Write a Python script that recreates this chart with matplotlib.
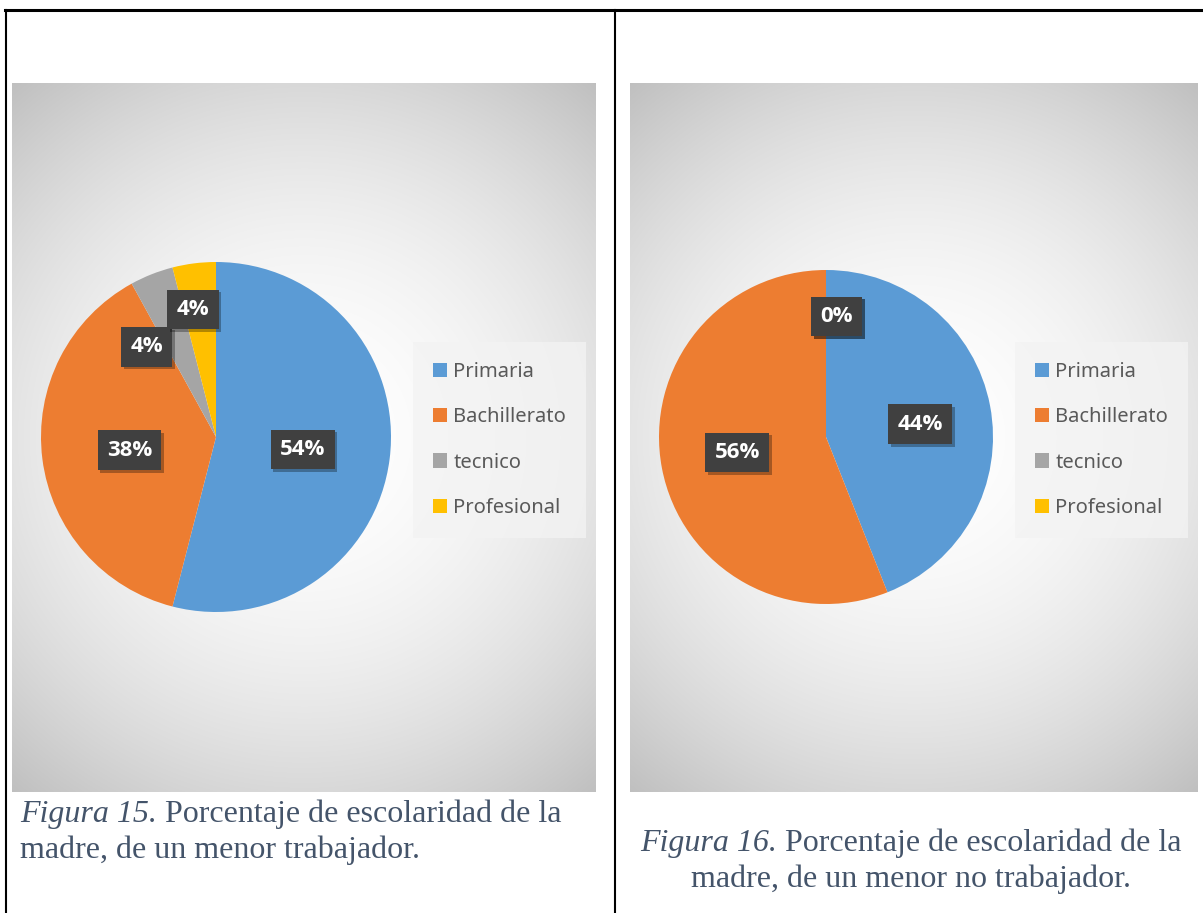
"""
Two pie charts of mother's schooling (Figura 15 / Figura 16), table layout.
"""

import numpy as np
import matplotlib.pyplot as plt
from matplotlib.lines import Line2D
import matplotlib.patheffects as pe

W, H = 1203, 913

categories = ["Primaria", "Bachillerato", "tecnico", "Profesional"]
trabajador = [54, 38, 4, 4]
no_trabajador = [44, 56, 0, 0]
colors = ["#5B9BD5", "#ED7D31", "#A5A5A5", "#FFC000"]

caption_15 = [["Figura 15.", " Porcentaje de escolaridad de la"],
              ["", "madre, de un menor trabajador."]]
caption_16 = [["Figura 16.", " Porcentaje de escolaridad de la"],
              ["", "madre, de un menor no trabajador."]]

# label placement per slice: (angle offset from slice middle, radius fraction)
label_layout_15 = [(-1.0, 0.50), (1.5, 0.50), (16.0, 0.65), (3.0, 0.74)]
label_layout_16 = [(-3.0, 0.57), (-1.0, 0.54), (-5.0, 0.725), (-5.0, 0.725)]


def frac(x0, y0, x1, y1):
    """pixel box (top-left origin) -> figure fraction rect"""
    return [x0 / W, 1 - y1 / H, (x1 - x0) / W, (y1 - y0) / H]


def chart_background(fig, box):
    ax = fig.add_axes(frac(*box))
    w, h = box[2] - box[0], box[3] - box[1]
    yy, xx = np.mgrid[0:h, 0:w]
    d = np.hypot(xx - w / 2, yy - h / 2) / np.hypot(w / 2, h / 2)
    g = 1 - 0.25 * d ** 1.9
    ax.imshow(np.dstack([g, g, g]), aspect="auto", extent=[0, 1, 0, 1])
    ax.set_axis_off()
    return ax


def draw_pie(fig, center, radius, values, layout, legend_anchor):
    cx, cy = center
    ax = fig.add_axes(frac(cx - radius, cy - radius, cx + radius, cy + radius))
    wedges, _ = ax.pie(values, colors=colors, startangle=90, counterclock=False,
                       radius=1.0, wedgeprops=dict(linewidth=0))
    ax.set_xlim(-1, 1)
    ax.set_ylim(-1, 1)
    ax.set_axis_off()

    for w, v, (da, r) in zip(wedges, values, layout):
        mid = np.deg2rad((w.theta1 + w.theta2) / 2 + da)
        t = ax.text(r * np.cos(mid), r * np.sin(mid), f"{v}%", ha="center", va="center",
                    fontsize=16, fontweight="bold", color="white",
                    family=["Open Sans", "DejaVu Sans"],
                    bbox=dict(boxstyle="square,pad=0.42", facecolor="#404040", edgecolor="none"))
        t.get_bbox_patch().set_path_effects(
            [pe.withSimplePatchShadow(offset=(2, -2), shadow_rgbFace="k", alpha=0.3)])

    leg = fig.legend(wedges, categories, loc="center left",
                     bbox_to_anchor=(legend_anchor[0] / W, 1 - legend_anchor[1] / H),
                     frameon=True, prop=dict(family="Noto Sans", size=14.5),
                     handlelength=0.7, handleheight=0.7, handletextpad=0.3,
                     labelspacing=1.25, borderpad=0.7, borderaxespad=0)
    leg.get_frame().set_facecolor("#f3f3f3")
    leg.get_frame().set_edgecolor("none")
    leg.get_frame().set_boxstyle("square")
    for txt in leg.get_texts():
        txt.set_color("#595959")
    return ax


def caption(fig, lines, x, y0, dy, align="left"):
    renderer = fig.canvas.get_renderer()
    for i, (ital, rest) in enumerate(lines):
        y = 1 - (y0 + i * dy) / H
        kw = dict(fontsize=23, family="Liberation Serif", color="#44546A", va="baseline")
        parts = []
        if ital:
            parts.append(fig.text(0, y, ital, style="italic", **kw))
        parts.append(fig.text(0, y, rest, **kw))
        widths = [p.get_window_extent(renderer).width for p in parts]
        total = sum(widths)
        start = x if align == "left" else x - total / 2
        for p, wd in zip(parts, widths):
            p.set_x(start / W)
            start += wd


fig = plt.figure(figsize=(W / 100, H / 100), dpi=100)
fig.patch.set_facecolor("white")

chart_background(fig, (12, 83, 596, 792))
chart_background(fig, (630, 83, 1198, 792))

draw_pie(fig, (216, 437), 175, trabajador, label_layout_15, (419, 440))
draw_pie(fig, (826, 437), 167, no_trabajador, label_layout_16, (1021, 440))

caption(fig, caption_15, 20, 822, 36, align="left")
caption(fig, caption_16, 911, 851, 36, align="center")

# table borders
fig.add_artist(Line2D([5 / W, 1], [1 - 10 / H, 1 - 10 / H], color="black", lw=2.2,
                      transform=fig.transFigure))
fig.add_artist(Line2D([6 / W, 6 / W], [0, 1 - 10 / H], color="black", lw=1.5,
                      transform=fig.transFigure))
fig.add_artist(Line2D([615 / W, 615 / W], [0, 1 - 10 / H], color="black", lw=1.5,
                      transform=fig.transFigure))

fig.savefig("out.png", dpi=100)
